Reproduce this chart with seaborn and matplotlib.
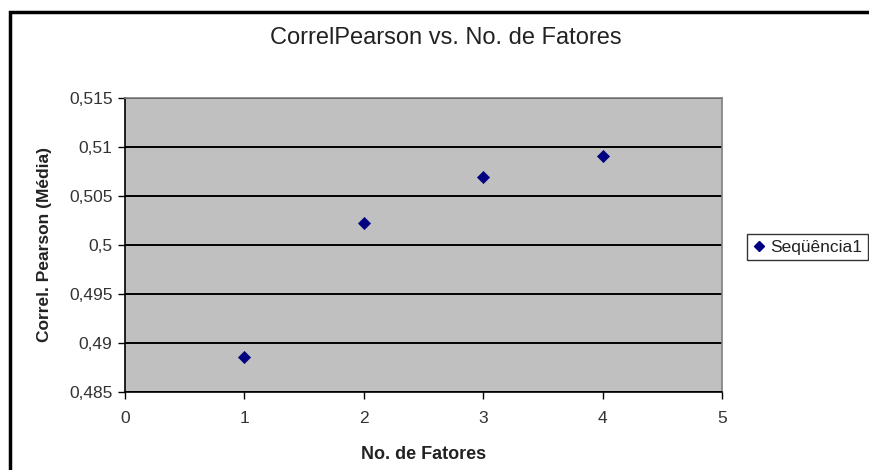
import numpy as np
import pandas as pd
import seaborn as sns
import matplotlib
matplotlib.use("Agg")
import matplotlib.pyplot as plt
from matplotlib.ticker import FuncFormatter, MultipleLocator
from matplotlib.patches import Rectangle

# data
n_fatores = [1, 2, 3, 4]
correl_media = [0.48857, 0.50224, 0.50697, 0.50908]
serie_nome = "Seqüência1"

df = pd.DataFrame({"fatores": n_fatores, "correl": correl_media, "serie": serie_nome})

sns.set_style("white")
plt.rcParams["font.family"] = ["Liberation Sans", "DejaVu Sans"]

fig = plt.figure(figsize=(8.69, 4.70), dpi=100)
ax = fig.add_axes([125 / 869, 1 - 392 / 470, (722 - 125) / 869, (392 - 98) / 470])
ax.set_facecolor("#C0C0C0")

sns.scatterplot(data=df, x="fatores", y="correl", ax=ax, marker="D", s=38,
                color="#000080", edgecolor="#000080", linewidth=0.5, legend=False, zorder=3)

ax.set_xlim(0, 5)
ax.set_ylim(0.485, 0.515)
ax.xaxis.set_major_locator(MultipleLocator(1))
ax.yaxis.set_major_locator(MultipleLocator(0.005))
ax.yaxis.set_major_formatter(FuncFormatter(lambda v, p: ("%g" % round(v, 4)).replace(".", ",")))

ax.grid(axis="y", color="black", linewidth=1.4)
ax.grid(axis="x", visible=False)
ax.set_axisbelow(True)

for side in ["left", "bottom"]:
    ax.spines[side].set_color("black")
    ax.spines[side].set_linewidth(1.2)
for side in ["top", "right"]:
    ax.spines[side].set_color("#808080")
    ax.spines[side].set_linewidth(1.2)

ax.tick_params(axis="both", direction="out", length=5, width=1, color="black",
               labelsize=12.5, labelcolor="#333333", left=True, bottom=True)
ax.tick_params(axis="x", pad=9)
ax.tick_params(axis="y", pad=4)

ax.set_xlabel("No. de Fatores", fontsize=13, fontweight="bold", labelpad=14, color="#222222")
ax.set_ylabel("Correl. Pearson (Média)", fontsize=12.5, fontweight="bold", labelpad=12, color="#222222")
fig.text(446 / 869, 1 - 38 / 470, "CorrelPearson vs. No. de Fatores", ha="center", va="center",
         fontsize=17, color="#222222")

# legend box hanging off the right edge
handle = plt.Line2D([], [], marker="D", linestyle="none", color="#000080", markersize=5.5)
fig.legend([handle], [serie_nome], loc="center left", bbox_to_anchor=(747 / 869, 1 - 247 / 470),
           frameon=True, fancybox=False, edgecolor="black", fontsize=12.5, handletextpad=0.25,
           handlelength=0.8, borderpad=0.3, borderaxespad=0, labelcolor="#222222")

# outer chart frame (only the left and top edges are visible)
fig.add_artist(Rectangle((10 / 869, -0.2), 1.2, 1.2 - 12 / 470, transform=fig.transFigure,
                         fill=False, edgecolor="black", linewidth=2.5, clip_on=False))

fig.savefig("out.png", dpi=100)
